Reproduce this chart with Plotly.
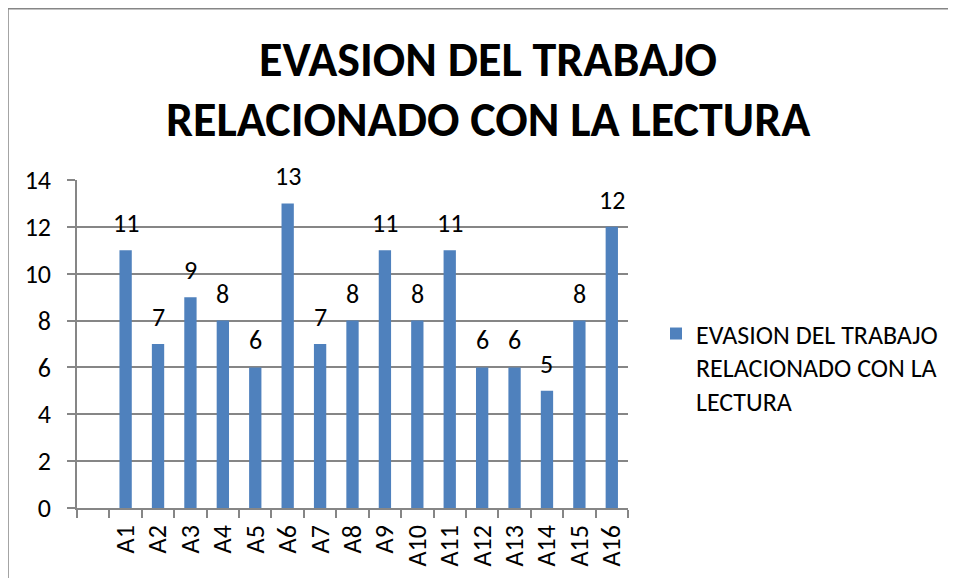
import plotly.graph_objects as go

categories = ["A1", "A2", "A3", "A4", "A5", "A6", "A7", "A8",
              "A9", "A10", "A11", "A12", "A13", "A14", "A15", "A16"]
values = [11, 7, 9, 8, 6, 13, 7, 8, 11, 8, 11, 6, 6, 5, 8, 12]
series_name = "EVASION DEL TRABAJO<br>RELACIONADO CON LA<br>LECTURA"
title_lines = ["EVASION DEL TRABAJO", "RELACIONADO CON LA LECTURA"]
y_ticks = [0, 2, 4, 6, 8, 10, 12, 14]

FONT = "Carlito, Calibri, Lato, sans-serif"
GRID = "#868686"
BAR = "#4F81BD"

# page body has an 8px margin -> figure origin sits at (8, 8)
OFF = 8
PL, PR, PT, PB = 77, 628, 180, 507.7  # plot area in window pixels
W, H = 956 - OFF, 578 - OFF
pw, ph = PR - PL, PB - PT


def px(x):
    return (x - PL) / pw


def py(y):
    return (PB - y) / ph


x_all = [" "] + categories
y_all = [None] + values

fig = go.Figure()
fig.add_trace(go.Bar(
    x=x_all, y=y_all, name=series_name,
    marker=dict(color=BAR, line=dict(width=0)),
    showlegend=True,
))

annotations = []
for c, v in zip(categories, values):
    annotations.append(dict(
        x=c, y=v, xref="x", yref="y", text=str(v), showarrow=False,
        yshift=27, font=dict(family=FONT, size=26, color="black"),
        xanchor="center", yanchor="middle"))

title_y = [60, 120]
for t, yy in zip(title_lines, title_y):
    annotations.append(dict(
        x=px(488), y=py(yy), xref="paper", yref="paper",
        text="<b>" + t + "</b>", showarrow=False,
        font=dict(family=FONT, size=48, color="black"),
        xanchor="center", yanchor="middle"))

shapes = [
    dict(type="line", xref="paper", yref="paper",
         x0=px(8), x1=px(970), y0=py(9), y1=py(9),
         line=dict(color=GRID, width=1.5)),
    dict(type="line", xref="paper", yref="paper",
         x0=px(8), x1=px(8), y0=py(9), y1=py(600),
         line=dict(color=GRID, width=1.5)),
]

fig.update_layout(
    width=W, height=H,
    margin=dict(l=PL - OFF, r=W - (PR - OFF), t=PT - OFF, b=H - (PB - OFF), pad=0),
    paper_bgcolor="white", plot_bgcolor="white",
    font=dict(family=FONT, color="black"),
    bargap=0.62,
    annotations=annotations,
    shapes=shapes,
    legend=dict(
        x=px(656), y=py(310),
        xanchor="left", yanchor="top",
        font=dict(family=FONT, size=26, color="black"),
        valign="top", bgcolor="rgba(0,0,0,0)",
        tracegroupgap=0,
    ),
)

fig.update_xaxes(
    type="category", categoryorder="array", categoryarray=x_all,
    range=[-0.5, 16.5],
    tickson="boundaries", ticks="outside", ticklen=8, tickcolor=GRID, tickwidth=1.5,
    showline=True, linecolor=GRID, linewidth=1.5,
    showgrid=False, tickangle=-90,
    tickfont=dict(family=FONT, size=26, color="black"),
    ticklabelstandoff=5,
    fixedrange=True,
)
fig.update_yaxes(
    range=[0, 14], tickvals=y_ticks,
    ticks="outside", ticklen=8, tickcolor=GRID, tickwidth=1.5,
    showline=True, linecolor=GRID, linewidth=1.5,
    showgrid=True, gridcolor=GRID, gridwidth=1.5,
    zeroline=False,
    tickfont=dict(family=FONT, size=26, color="black"),
    ticklabelstandoff=11,
    fixedrange=True,
)

fig.write_html("out.html", config={"displayModeBar": False})
